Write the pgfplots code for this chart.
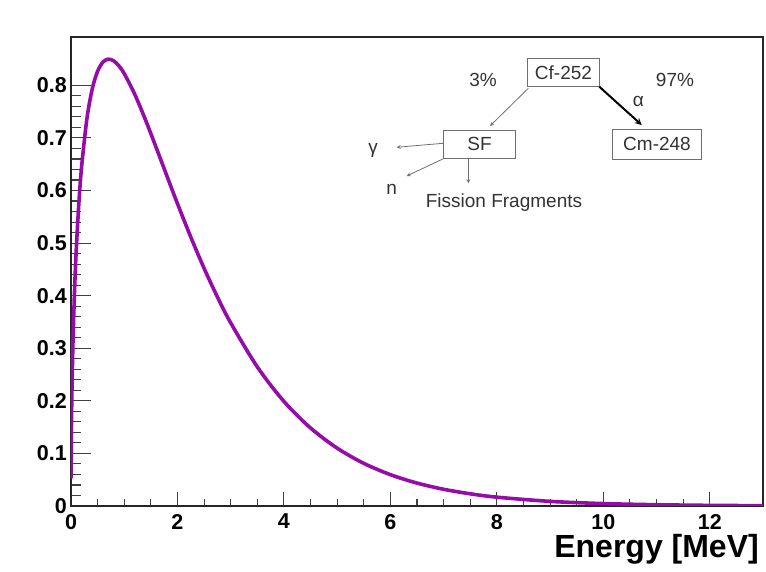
\documentclass[border=0pt]{standalone}
\usepackage{fontspec}
\setmainfont{Liberation Sans}
\usepackage{pgfplots}
\pgfplotsset{compat=1.18}
\usetikzlibrary{calc}
\definecolor{CurvePurple}{RGB}{150,12,168}
\definecolor{BoxGray}{RGB}{110,110,110}

% Cf-252 fission neutron spectrum (Maxwellian shape, T ~ 1.42 MeV)
\pgfplotstableread{
E      f
0.001  0.0526
0.005  0.1172
0.01   0.1651
0.02   0.2319
0.04   0.3234
0.07   0.4188
0.1    0.4901
0.15   0.5795
0.2    0.6460
0.3    0.7374
0.4    0.7936
0.5    0.8269
0.6    0.8443
0.7    0.8499
0.8    0.8468
0.9    0.8371
1.0    0.8224
1.2    0.7825
1.4    0.7342
1.6    0.6818
1.8    0.6281
2.0    0.5751
2.25   0.5115
2.5    0.4521
2.75   0.3977
3.0    0.3483
3.5    0.2646
4.0    0.1989
4.5    0.1484
5.0    0.1100
5.5    0.0811
6.0    0.0596
6.5    0.0436
7.0    0.0318
7.5    0.0232
8.0    0.0168
9.0    0.0088
10.0   0.0046
11.0   0.0024
12.0   0.0012
13.0   0.0006
}\spectrum

\begin{document}
\begin{tikzpicture}
\pgfplotsset{
  rootframe/.style={
    scale only axis,
    width=692pt, height=469pt,
    xmin=0, xmax=13, ymin=0, ymax=0.892,
    tick pos=left,
    tick align=inside,
    axis line style={line width=1.1pt, black!85},
    every tick/.style={line width=1.1pt, black!75},
    /pgf/number format/assume math mode=true,
    tick label style={font=\fontsize{21.5}{24}\selectfont\bfseries},
  }
}
% x ticks
\begin{axis}[rootframe,
  xtick={0,2,4,6,8,10,12},
  minor x tick num=3,
  ytick=\empty,
  major tick length=14pt, minor tick length=7pt,
  xticklabel style={inner sep=0pt, yshift=-8pt},
  xlabel={Energy [MeV]},
  xlabel style={at={(axis description cs:1,0)}, anchor=north east,
    inner sep=0pt, yshift=-28pt, xshift=-4pt, font=\fontsize{32}{36}\selectfont\bfseries},
]
\end{axis}
% y ticks and curve
\begin{axis}[rootframe,
  xtick=\empty,
  ytick={0,0.1,0.2,0.3,0.4,0.5,0.6,0.7,0.8},
  minor y tick num=4,
  major tick length=20pt, minor tick length=10pt,
  yticklabel style={inner sep=0pt, xshift=-4pt},
]
\addplot[CurvePurple, line width=3.6pt, smooth] table[x=E, y=f] {\spectrum};
\end{axis}

% decay scheme inset, coordinates in pixels of the reference (origin top left)
\begin{scope}[shift={($(current axis.north west)+(-71pt,37pt)$)}, x=1pt, y=-1pt,
  every node/.style={font=\fontsize{19}{21}\selectfont, text=black!80}]
  \draw[BoxGray, line width=0.9pt] (527.7,58.3) rectangle (599.3,86.7);
  \node at (563.5,72.5) {Cf-252};
  \draw[BoxGray, line width=0.9pt] (443.3,130) rectangle (515.7,158.3);
  \node at (479.5,144.2) {SF};
  \draw[BoxGray, line width=0.9pt] (612.3,129.3) rectangle (701.7,159);
  \node at (657,144.2) {Cm-248};
  \node at (483,80) {3\%};
  \node at (675,80) {97\%};
  \node at (638.3,101) {α};
  \draw[->, >=stealth, BoxGray, line width=0.8pt] (528.3,88.3) -- (490,126);
  \draw[->, >=stealth, black, line width=2pt] (599.3,86.7) -- (641.7,125);
  \draw[->, >=stealth, BoxGray, line width=0.8pt] (443.3,143.3) -- (396.7,147.3);
  \node at (373,150) {γ};
  \draw[->, >=stealth, BoxGray, line width=0.8pt] (444.3,158.3) -- (406.7,176);
  \node at (391.7,189) {n};
  \draw[->, >=stealth, BoxGray, line width=0.8pt] (468.3,158.3) -- (468.3,183.3);
  \node at (504,202.5) {Fission Fragments};
\end{scope}

\pgfresetboundingbox
\path (current axis.south west) ++(-71pt,-66pt) rectangle ++(766pt,572pt);
\end{tikzpicture}
\end{document}
